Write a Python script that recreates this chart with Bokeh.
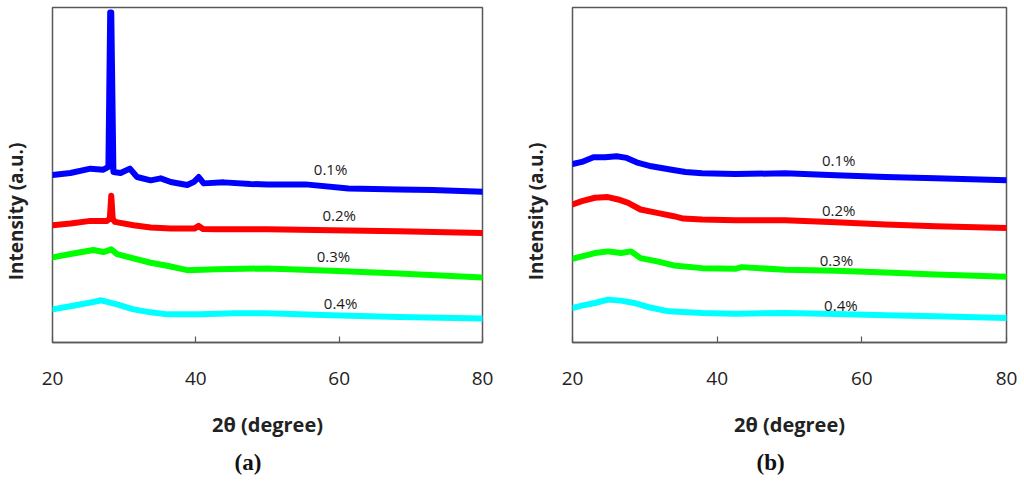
import math
from bokeh.plotting import figure
from bokeh.layouts import row
from bokeh.models import FixedTicker, Title, ColumnDataSource, Range1d, Label
from bokeh.core.properties import value
from bokeh.embed import file_html
from bokeh.resources import INLINE

# ---------------- data (a) ----------------
a_x_01 = [20, 22.5, 25.3, 27.1, 27.8, 28.05, 28.2, 28.5, 29.5, 30.8, 31.8, 33.7, 35.1, 36.5,
          38.8, 39.7, 40.4, 41.1, 43.9, 47.6, 50, 55.3, 61.3, 68.3, 73, 80]
a_y_01 = [50.0, 50.6, 51.9, 51.6, 52.4, 98.5, 98.5, 50.9, 50.6, 51.9, 49.4, 48.4, 49.0, 47.9,
          47.0, 47.9, 49.4, 47.5, 47.8, 47.3, 47.2, 47.2, 46.0, 45.7, 45.5, 45.0]
a_x_02 = [20, 22.5, 25.3, 27.6, 28.0, 28.2, 28.4, 28.7, 31.3, 33.7, 36.5, 39.8, 40.4, 41.0,
          42.9, 50, 58.9, 68.3, 80]
a_y_02 = [35.0, 35.5, 36.3, 36.3, 37.0, 43.8, 37.0, 36.0, 35.0, 34.3, 34.0, 34.0, 34.8, 33.9,
          33.8, 33.8, 33.5, 33.2, 32.7]
a_x_03 = [20, 22.5, 25.7, 27.1, 28.2, 29, 31.3, 33.7, 36, 38.8, 42.9, 50, 58.9, 68.3, 80]
a_y_03 = [25.4, 26.4, 27.6, 27.0, 27.8, 26.4, 25.1, 23.8, 22.9, 21.6, 21.9, 22.1, 21.4, 20.6, 19.4]
a_x_04 = [20, 22.5, 25.7, 26.8, 29, 31.3, 33.7, 36, 40.7, 45.4, 50, 58.9, 68.3, 80]
a_y_04 = [9.9, 10.8, 12.1, 12.6, 11.4, 9.9, 9.0, 8.4, 8.4, 8.7, 8.7, 8.1, 7.6, 7.2]

# ---------------- data (b) ----------------
b_x_01 = [20, 21.3, 22.9, 24.5, 26.1, 27.5, 29.1, 30.9, 33.3, 35.6, 37.9, 42.5, 49.4, 56.4,
          63.3, 70.2, 80]
b_y_01 = [53.3, 53.9, 55.3, 55.3, 55.6, 55.1, 53.6, 52.6, 51.7, 50.9, 50.5, 50.3, 50.5, 49.9,
          49.4, 49.0, 48.4]
b_x_02 = [20, 21.3, 23.1, 24.9, 26.3, 27.7, 29.4, 31.7, 34, 35.3, 37.9, 42.5, 49.4, 56.4,
          63.3, 70.2, 80]
b_y_02 = [41.2, 42.2, 43.2, 43.4, 42.7, 41.7, 39.7, 38.7, 37.7, 37.0, 36.7, 36.5, 36.5, 35.9,
          35.2, 34.7, 34.2]
b_x_03 = [20, 21.3, 23.1, 24.9, 26.7, 28.1, 29.4, 31.7, 34, 37.9, 42.5, 43.4, 49.4, 56.4,
          63.3, 70.2, 80]
b_y_03 = [25.0, 25.7, 26.7, 27.2, 26.7, 27.2, 25.2, 24.2, 23.0, 22.2, 22.0, 22.5, 21.7, 21.4,
          20.9, 20.3, 19.6]
b_x_04 = [20, 21.3, 23.1, 24.9, 26.7, 28.5, 30.4, 33.3, 37.9, 42.5, 49.4, 56.4, 63.3, 70.2, 80]
b_y_04 = [10.3, 11.0, 11.8, 12.8, 12.5, 11.8, 10.6, 9.3, 8.8, 8.6, 8.8, 8.5, 8.1, 7.8, 7.3]

series_names = ["0.1%", "0.2%", "0.3%", "0.4%"]
series_colors = ["#0000FF", "#FF0000", "#00FF00", "#00FFFF"]

a_label_x = [58.8, 60.0, 59.2, 60.2]
a_label_y = [51.9, 38.0, 25.8, 11.8]
b_label_x = [56.8, 56.8, 56.5, 57.1]
b_label_y = [54.4, 39.5, 24.7, 11.3]

x_ticks = [20, 40, 60, 80]
x_label = "2θ (degree)"
y_label = "Intensity (a.u.)"

FONT = "Open Sans"
H = 484
PAD = 14  # room left of each frame for the first tick label


def make_ylabel_strip(width, text_x):
    # narrow strip that carries the vertical y-axis title, left of each panel
    # (its frame is aligned by the row with the neighbouring panel's frame)
    s = figure(width=width, height=H, x_range=Range1d(0, 1), y_range=Range1d(0, 1),
               output_backend="svg", toolbar_location=None,
               x_axis_location=None, y_axis_location=None, min_border=0)
    s.grid.visible = False
    s.outline_line_color = None
    s.background_fill_color = "white"
    s.border_fill_color = "white"
    s.add_layout(Label(x=text_x, y=131, x_units="screen", y_units="screen",
                       text=y_label, angle=math.pi / 2,
                       text_align="center", text_baseline="middle",
                       text_font=FONT, text_font_size="19px", text_font_style="bold",
                       text_color="#222222"))
    return s


def make_panel(xs, ys, lab_x, lab_y, caption, width, border_right, cap_offset):
    p = figure(width=width, height=H, x_range=(20, 80), y_range=(0, 100),
               output_backend="svg", toolbar_location=None,
               min_border_left=PAD, min_border_right=border_right,
               min_border_top=7, min_border_bottom=142)
    p.grid.visible = False
    p.outline_line_color = "#595959"
    p.outline_line_width = 1.5
    p.background_fill_color = "white"
    p.border_fill_color = "white"

    for x, y, c in zip(xs, ys, series_colors):
        p.line(x, y, line_color=c, line_width=6, line_join="round", line_cap="round")

    src = ColumnDataSource(dict(x=lab_x, y=lab_y, t=series_names))
    p.text(x="x", y="y", text="t", source=src, text_font=value(FONT),
           text_font_size="15px", text_align="center", text_baseline="middle",
           text_color="#1a1a1a")

    xa = p.xaxis[0]
    xa.ticker = FixedTicker(ticks=x_ticks)
    xa.minor_tick_line_color = None
    xa.major_tick_in = 6
    xa.major_tick_out = 0
    xa.major_tick_line_color = "#595959"
    xa.major_tick_line_width = 1.2
    xa.axis_line_color = "#595959"
    xa.axis_line_width = 1.5
    xa.major_label_standoff = 29
    xa.major_label_text_font = FONT
    xa.major_label_text_font_size = "19px"
    xa.major_label_text_color = "#222222"
    xa.axis_label = x_label
    xa.axis_label_text_font = FONT
    xa.axis_label_text_font_size = "20px"
    xa.axis_label_text_font_style = "bold"
    xa.axis_label_text_color = "#222222"
    xa.axis_label_standoff = 23

    p.yaxis.visible = False

    t = Title(text=caption, align="left", offset=cap_offset,
              text_font="Liberation Serif", text_font_size="23px",
              text_font_style="bold", text_color="#111111", standoff=14)
    p.add_layout(t, "below")
    return p


sa = make_ylabel_strip(52 - PAD, 15)
pa = make_panel([a_x_01, a_x_02, a_x_03, a_x_04], [a_y_01, a_y_02, a_y_03, a_y_04],
                a_label_x, a_label_y, "(a)", PAD + 430 + 30, 30, 182)
sb = make_ylabel_strip(60 - PAD, 23)
pb = make_panel([b_x_01, b_x_02, b_x_03, b_x_04], [b_y_01, b_y_02, b_y_03, b_y_04],
                b_label_x, b_label_y, "(b)", PAD + 434 + 17, 17, 184)

layout = row(sa, pa, sb, pb)
open("out.html", "w").write(file_html(layout, INLINE))
